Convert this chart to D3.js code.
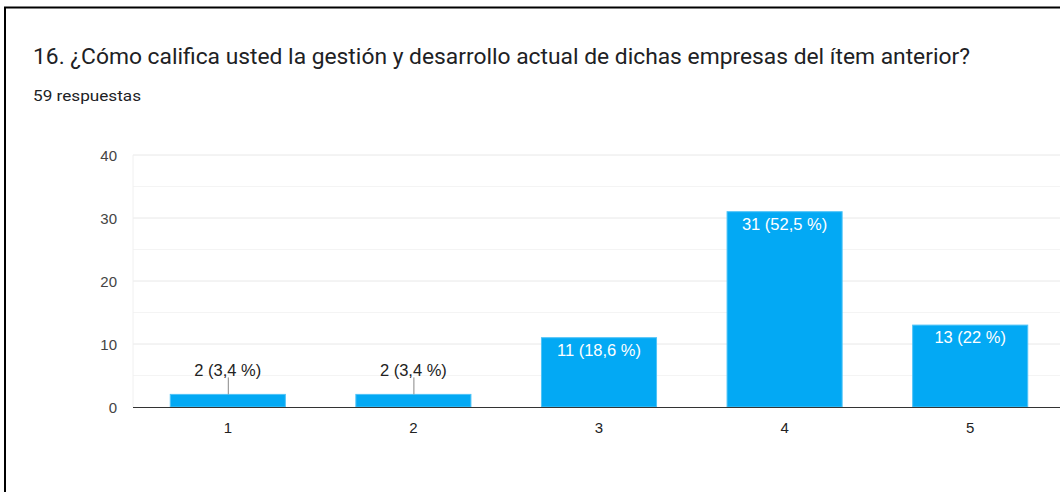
<!DOCTYPE html>
<html><head><meta charset="utf-8">
<script src="https://cdn.jsdelivr.net/npm/d3@7"></script>
<style>body{margin:0;background:#fff}svg{display:block}</style>
</head><body>
<svg id="c" width="1060" height="492"></svg>
<script>
const categories = ["1","2","3","4","5"];
const values = [2,2,11,31,13];
const labels = ["2 (3,4 %)","2 (3,4 %)","11 (18,6 %)","31 (52,5 %)","13 (22 %)"];
const yTicks = [0,10,20,30,40];
const minorTicks = [5,15,25,35];
const title = "16. ¿Cómo califica usted la gestión y desarrollo actual de dichas empresas del ítem anterior?";
const subtitle = "59 respuestas";

const svg = d3.select("#c");
svg.append("rect").attr("x",5).attr("y",7.5).attr("width",1070).attr("height",500)
  .attr("fill","none").attr("stroke","#000").attr("stroke-width",2);

svg.append("text").attr("x",33).attr("y",64).text(title)
  .attr("font-family","Roboto, 'Open Sans', sans-serif").attr("font-size",21.5)
  .attr("textLength",937).attr("lengthAdjust","spacingAndGlyphs").attr("fill","#202124");
svg.append("text").attr("x",33).attr("y",101).text(subtitle)
  .attr("font-family","Roboto, sans-serif").attr("font-size",15.5)
  .attr("textLength",108).attr("lengthAdjust","spacingAndGlyphs").attr("fill","#202124");

const x = d3.scaleBand().domain(categories).range([135,1063]).paddingInner(0.38).paddingOuter(0.19);
const y = d3.scaleLinear().domain([0,40]).range([407,155]);
const left = 133, right = 1060;
const F = "Arial, 'Liberation Sans', sans-serif";

const g = svg.append("g");
g.selectAll(".minor").data(minorTicks).join("line")
  .attr("x1",left).attr("x2",right).attr("y1",d=>y(d)).attr("y2",d=>y(d))
  .attr("stroke","#f4f4f4").attr("stroke-width",1);
g.selectAll(".major").data(yTicks.filter(d=>d>0)).join("line")
  .attr("x1",left).attr("x2",right).attr("y1",d=>y(d)).attr("y2",d=>y(d))
  .attr("stroke","#e8e8e8").attr("stroke-width",1);
g.append("line").attr("x1",left).attr("x2",left).attr("y1",y(40)).attr("y2",y(0))
  .attr("stroke","#f0f0f0");

g.selectAll(".ytl").data(yTicks).join("text")
  .attr("x",117).attr("y",d=>y(d)+5.5).attr("text-anchor","end").text(d=>d)
  .attr("font-family",F).attr("font-size",15).attr("fill","#444");

g.selectAll(".bar").data(values).join("rect")
  .attr("x",(d,i)=>x(categories[i])).attr("width",x.bandwidth())
  .attr("y",d=>y(d)).attr("height",d=>y(0)-y(d))
  .attr("fill","#03a9f4").attr("stroke","#4fc3f7").attr("stroke-width",1);

g.append("line").attr("x1",left).attr("x2",right).attr("y1",y(0)+0.5).attr("y2",y(0)+0.5)
  .attr("stroke","#333").attr("stroke-width",1.2);

g.selectAll(".xtl").data(categories).join("text")
  .attr("x",d=>x(d)+x.bandwidth()/2).attr("y",433).attr("text-anchor","middle").text(d=>d)
  .attr("font-family",F).attr("font-size",15).attr("fill","#222");

values.forEach((v,i)=>{
  const cx = x(categories[i])+x.bandwidth()/2;
  const inside = (y(0)-y(v)) > 30;
  if(inside){
    g.append("text").attr("x",cx).attr("y",y(v)+18).attr("text-anchor","middle").text(labels[i])
      .attr("font-family",F).attr("font-size",16.5).attr("fill","#fff");
  } else {
    g.append("line").attr("x1",cx+0.5).attr("x2",cx+0.5).attr("y1",y(v)-17).attr("y2",y(v))
      .attr("stroke","#888").attr("stroke-width",1);
    g.append("text").attr("x",cx).attr("y",y(v)-18).attr("text-anchor","middle").text(labels[i])
      .attr("font-family",F).attr("font-size",16.5).attr("fill","#222");
  }
});
</script>
</body></html>
